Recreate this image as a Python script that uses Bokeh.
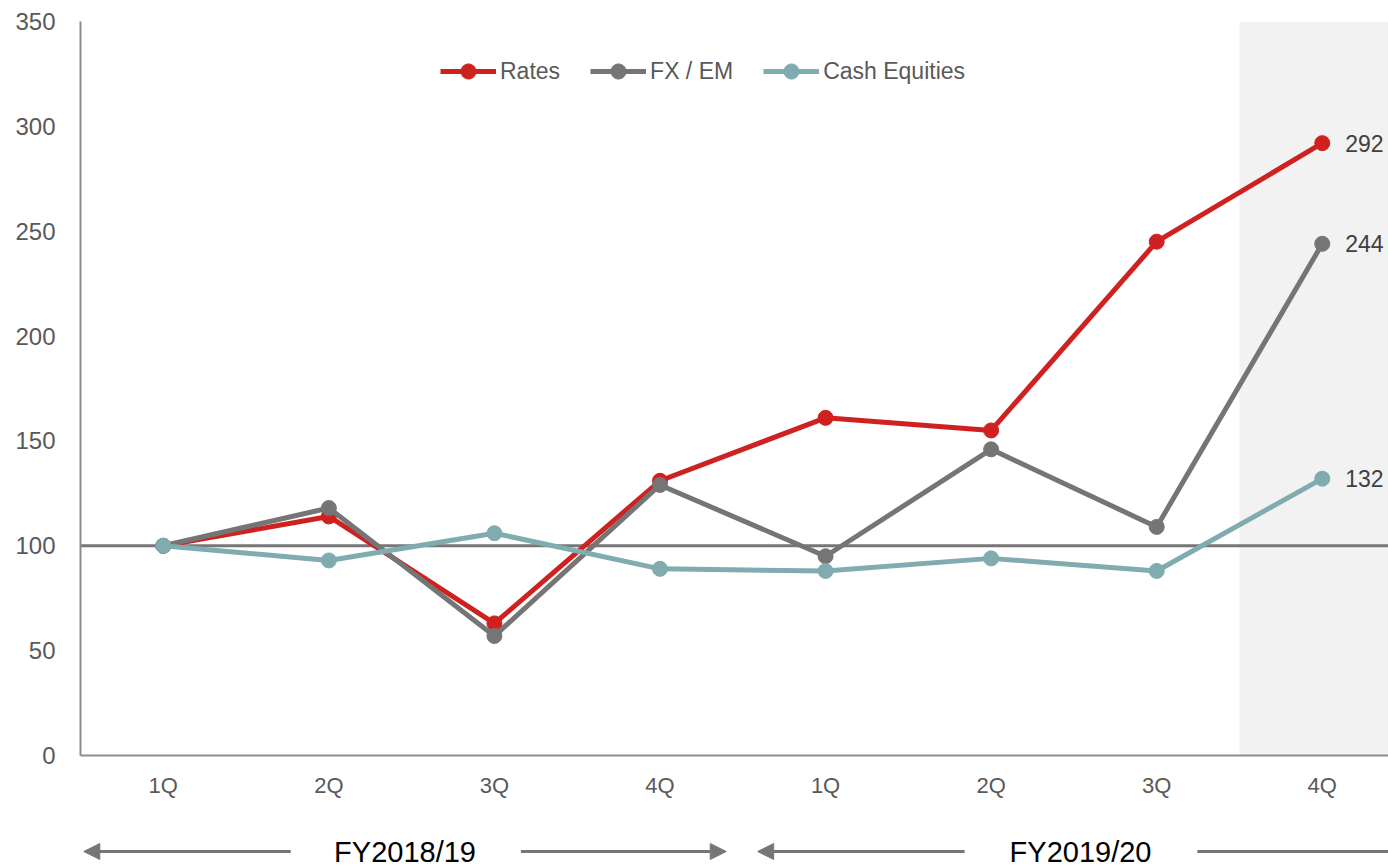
from bokeh.plotting import figure
from bokeh.models import (Range1d, FixedTicker, Span, BoxAnnotation, Legend, LegendItem,
                          ColumnDataSource, Arrow, NormalHead)
from bokeh.layouts import column
from bokeh.core.properties import value
from bokeh.embed import file_html
from bokeh.resources import INLINE

# ---------------- data ----------------
quarters = ["1Q", "2Q", "3Q", "4Q", "1Q", "2Q", "3Q", "4Q"]
rates = [100, 114, 63, 131, 161, 155, 245, 292]
fx_em = [100, 118, 57, 129, 95, 146, 109, 244]
cash_equities = [100, 93, 106, 89, 88, 94, 88, 132]
series_names = ["Rates", "FX / EM", "Cash Equities"]
fy_labels = ["FY2018/19", "FY2019/20"]
y_ticks = [0, 50, 100, 150, 200, 250, 300, 350]
baseline = 100

FONT = "Liberation Sans"
colors = ["#cf2220", "#757575", "#80abaf"]
xs = [i + 0.5 for i in range(len(quarters))]
XMAX = 7.9

p = figure(width=1388, height=800, output_backend="svg", toolbar_location=None,
           x_range=Range1d(0, XMAX), y_range=Range1d(0, 350),
           min_border_left=80, min_border_right=0, min_border_top=21, min_border_bottom=43)
p.outline_line_color = None
p.xgrid.visible = False
p.ygrid.visible = False

# shaded last-quarter band
p.add_layout(BoxAnnotation(left=7, right=XMAX, fill_color="#f2f2f2", fill_alpha=1,
                           line_color=None, level="underlay"))
p.add_layout(Span(location=baseline, dimension="width", line_color="#767676",
                  line_width=3, level="underlay"))

items = []
for name, vals, col in zip(series_names, [rates, fx_em, cash_equities], colors):
    src = ColumnDataSource(dict(x=xs, y=vals))
    lr = p.line("x", "y", source=src, line_color=col, line_width=5)
    sr = p.scatter("x", "y", source=src, size=15, fill_color=col, line_color=col)
    items.append(LegendItem(label=name, renderers=[lr, sr]))
    p.text(x=[xs[-1]], y=[vals[-1]], text=[str(vals[-1])], x_offset=23,
           text_align="left", text_baseline="middle", text_font=value(FONT),
           text_font_size="23px", text_color="#404040")

legend = Legend(items=items, orientation="horizontal", location=(360, 665),
                glyph_width=56, glyph_height=38, label_height=38, label_standoff=4, spacing=30,
                label_text_font=FONT, label_text_font_size="23px",
                label_text_color="#595959", border_line_color=None,
                background_fill_alpha=0, padding=0, margin=0)
p.add_layout(legend)

# axes
p.yaxis.ticker = FixedTicker(ticks=y_ticks)
p.yaxis.major_tick_line_color = None
p.yaxis.major_tick_out = 0
p.yaxis.major_tick_in = 0
p.yaxis.minor_tick_line_color = None
p.yaxis.axis_line_color = "#8c8c8c"
p.yaxis.axis_line_width = 2
p.yaxis.major_label_text_font = FONT
p.yaxis.major_label_text_font_size = "24px"
p.yaxis.major_label_text_color = "#595959"
p.yaxis.major_label_standoff = 25

p.xaxis.ticker = FixedTicker(ticks=xs)
p.xaxis.major_label_overrides = {x: q for x, q in zip(xs, quarters)}
p.xaxis.major_tick_line_color = None
p.xaxis.major_tick_out = 0
p.xaxis.major_tick_in = 0
p.xaxis.minor_tick_line_color = None
p.xaxis.axis_line_color = "#8c8c8c"
p.xaxis.axis_line_width = 2
p.xaxis.major_label_text_font = FONT
p.xaxis.major_label_text_font_size = "22px"
p.xaxis.major_label_text_color = "#595959"
p.xaxis.major_label_standoff = 17

# ---------------- fiscal-year arrows ----------------
p2 = figure(width=1388, height=66, output_backend="svg", toolbar_location=None,
            x_range=p.x_range, y_range=Range1d(0, 66), x_axis_type=None, y_axis_type=None,
            min_border_left=80, min_border_right=0, min_border_top=0, min_border_bottom=0)
p2.outline_line_color = None
p2.xgrid.visible = False
p2.ygrid.visible = False

ay = 15
arrow_col = "#767676"
left_tips = [0.02, 4.09]
left_ends = [1.27, 5.34]
text_x = [1.96, 6.04]
right_starts = [2.66, 6.745]
right_tips = [3.9, XMAX + 0.3]
for i in range(2):
    p2.add_layout(Arrow(end=NormalHead(size=16, fill_color=arrow_col, line_color=arrow_col),
                        x_start=left_ends[i], y_start=ay, x_end=left_tips[i], y_end=ay,
                        line_color=arrow_col, line_width=3))
    if i == 0:
        p2.add_layout(Arrow(end=NormalHead(size=16, fill_color=arrow_col, line_color=arrow_col),
                            x_start=right_starts[i], y_start=ay, x_end=right_tips[i], y_end=ay,
                            line_color=arrow_col, line_width=3))
    else:
        p2.segment(x0=[right_starts[i]], y0=[ay], x1=[right_tips[i]], y1=[ay],
                   line_color=arrow_col, line_width=3)
p2.text(x=text_x, y=[ay, ay], text=fy_labels, text_align="center", text_baseline="middle",
        text_font=value(FONT), text_font_size="29px", text_color="#000000")

layout = column(p, p2, spacing=0)
open("out.html", "w").write(file_html(layout, INLINE))
